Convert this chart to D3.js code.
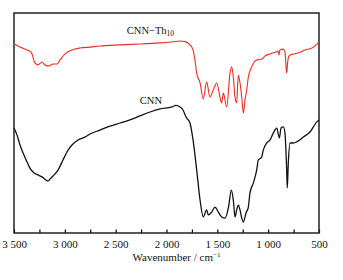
<!DOCTYPE html>
<html>
<head>
<meta charset="utf-8">
<script src="https://cdn.jsdelivr.net/npm/d3@7"></script>
<style>
  body { margin: 0; background: #fff; }
  text { font-family: "Liberation Serif", "Times New Roman", serif; }
</style>
</head>
<body>
<div id="chart"></div>
<script>
// wavenumbers (cm-1) and relative transmittance
var cnnTh10Wn = [3500, 3441, 3372, 3333, 3293, 3264, 3225, 3195, 3156, 3116, 3077, 3048, 2998, 2930, 2851,
  2752, 2654, 2457, 2261, 2064, 1946, 1867, 1818, 1769, 1739, 1720, 1703, 1670, 1638, 1605, 1572, 1540,
  1506, 1474, 1457, 1441, 1408, 1375, 1359, 1343, 1326, 1310, 1294, 1277, 1260, 1244, 1228, 1211, 1195,
  1162, 1113, 1061, 1031, 982, 923, 903, 894, 884, 854, 835, 818, 810, 800, 785, 746, 707, 638, 569, 530, 500];
var cnnTh10T = [85.9, 84.5, 83.2, 82.3, 77.3, 76.4, 77.7, 76.4, 75.9, 76.8, 76.8, 78.6, 81.4, 83.2, 84.1,
  84.5, 85.0, 85.5, 85.9, 86.4, 86.8, 87.3, 87.0, 85.5, 83.2, 78.6, 72.7, 68.2, 60.9, 68.6, 61.8, 65.0,
  68.2, 61.8, 59.1, 63.6, 57.3, 72.7, 75.5, 70.9, 61.8, 59.1, 71.8, 68.2, 61.8, 54.5, 60.5, 65.0, 70.9,
  75.5, 78.6, 79.1, 80.5, 81.4, 82.3, 82.7, 80.9, 83.2, 83.6, 82.3, 72.7, 76.8, 80.0, 80.9, 81.4, 81.8, 83.2, 84.1, 85.5, 86.8];

var cnnWn = [3500, 3470, 3441, 3402, 3372, 3343, 3303, 3264, 3225, 3185, 3166, 3146, 3116, 3067, 3018,
  2979, 2930, 2870, 2802, 2752, 2654, 2556, 2457, 2359, 2261, 2162, 2064, 1946, 1907, 1867, 1838, 1808,
  1769, 1739, 1703, 1670, 1638, 1605, 1589, 1556, 1523, 1490, 1457, 1423, 1390, 1362, 1343, 1326, 1310,
  1294, 1277, 1260, 1244, 1218, 1195, 1179, 1146, 1113, 1097, 1064, 1048, 1015, 982, 949, 916, 890, 873,
  851, 835, 818, 812, 802, 785, 753, 719, 654, 589, 522, 500];
var cnnT = [47.7, 44.5, 40.0, 35.5, 32.3, 29.5, 27.3, 26.4, 25.5, 24.1, 23.6, 24.5, 25.9, 28.6, 33.2,
  36.8, 40.0, 42.3, 43.6, 45.0, 46.8, 48.6, 50.0, 51.4, 53.2, 55.0, 56.4, 57.3, 58.0, 57.3, 55.9, 52.7,
  50.0, 42.3, 28.6, 15.0, 7.3, 10.5, 8.2, 9.5, 11.8, 9.5, 7.3, 6.8, 11.8, 19.5, 15.0, 7.3, 10.5,
  12.7, 10.5, 6.8, 5.0, 9.1, 11.8, 18.2, 22.7, 28.6, 33.2, 34.5, 37.7, 40.9, 42.3, 45.5, 47.7, 43.2, 47.7,
  48.2, 45.5, 28.6, 20.5, 31.8, 40.9, 40.9, 41.4, 43.6, 45.9, 50.5, 51.4];

var majorTicks = [3500, 3000, 2500, 2000, 1500, 1000, 500];
var minorTicks = [3250, 2750, 2250, 1750, 1250, 750];

// set the dimensions and margins of the graph
var margin = {top: 13, right: 24, bottom: 47, left: 14},
    width = 343 - margin.left - margin.right,
    height = 280 - margin.top - margin.bottom;

var svg = d3.select("#chart")
  .append("svg")
  .attr("width", 343)
  .attr("height", 280)
  .append("g")
  .attr("transform", "translate(" + margin.left + "," + margin.top + ")");

var x = d3.scaleLinear().domain([3500, 500]).range([0, width]);
var y = d3.scaleLinear().domain([0, 100]).range([height, 0]);

// thousands with a space, as in the figure
var fmt = function(d) {
  return d >= 1000 ? Math.floor(d / 1000) + " " + String(d % 1000).padStart(3, "0") : String(d);
};

// minor ticks
svg.append("g")
  .attr("transform", "translate(0," + height + ")")
  .call(d3.axisBottom(x).tickValues(minorTicks).tickSize(-3.5).tickFormat(""))
  .call(g => g.select(".domain").remove())
  .selectAll("line").attr("stroke-width", 1.2);

// x axis
var xAxis = svg.append("g")
  .attr("transform", "translate(0," + height + ")")
  .call(d3.axisBottom(x).tickValues(majorTicks).tickSize(-3.5).tickPadding(7).tickFormat(fmt));
xAxis.select(".domain").remove();
xAxis.selectAll("line").attr("stroke-width", 1.2);
xAxis.selectAll("text")
  .style("font-size", "11px")
  .style("font-family", "'Liberation Serif', serif")
  .attr("fill", "#111");

// frame
svg.append("rect")
  .attr("width", width)
  .attr("height", height)
  .attr("fill", "none")
  .attr("stroke", "#222")
  .attr("stroke-width", 1.5);

// x label
var xl = svg.append("text")
  .attr("text-anchor", "middle")
  .attr("x", width / 2 + 10)
  .attr("y", height + 28)
  .style("font-size", "11px")
  .attr("fill", "#111");
xl.append("tspan").text("Wavenumber / cm");
xl.append("tspan").attr("dy", -4).style("font-size", "7px").text("\u22121");

// lines
var line = d3.line()
  .x(d => x(d[0]))
  .y(d => y(d[1]))
  .curve(d3.curveMonotoneX);

svg.append("path")
  .datum(d3.zip(cnnTh10Wn, cnnTh10T))
  .attr("fill", "none")
  .attr("stroke", "#ee2a24")
  .attr("stroke-width", 1.1)
  .attr("d", line);

svg.append("path")
  .datum(d3.zip(cnnWn, cnnT))
  .attr("fill", "none")
  .attr("stroke", "#111")
  .attr("stroke-width", 1.3)
  .attr("d", line);

// series labels
var t1 = svg.append("text")
  .attr("x", x(2390))
  .attr("y", y(90.5))
  .style("font-size", "10.5px")
  .attr("fill", "#111");
t1.append("tspan").text("CNN\u2212Th");
t1.append("tspan").attr("dy", 2.5).style("font-size", "7.5px").text("10");

svg.append("text")
  .attr("x", x(2262))
  .attr("y", y(58.6))
  .style("font-size", "10.5px")
  .attr("fill", "#111")
  .text("CNN");
</script>
</body>
</html>
